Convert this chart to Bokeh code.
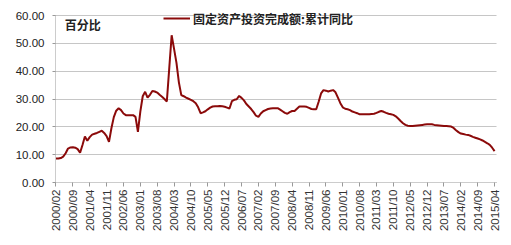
from math import pi
from bokeh.plotting import figure
from bokeh.models import Range1d, FixedTicker, Legend, LegendItem, Label, NumeralTickFormatter
from bokeh.embed import file_html
from bokeh.resources import INLINE

# monthly categories 2000/02 .. 2015/04
months = []
y, m = 2000, 2
while (y, m) <= (2015, 4):
    months.append(f"{y}/{m:02d}")
    m += 1
    if m > 12:
        y, m = y + 1, 1

values = [
    8.6, 8.6, 8.8, 9.3, 10.5, 12.2, 12.6, 12.7, 12.5, 12.0,
    10.7, 13.5, 16.5, 15.0, 16.3, 17.2, 17.5, 17.8, 18.2, 18.6,
    17.8, 16.7, 14.6, 19.5, 23.5, 25.8, 26.7, 26.0, 24.8, 24.2,
    24.2, 24.2, 24.2, 23.6, 18.2, 25.5, 31.0, 32.6, 30.5, 31.5,
    32.9, 32.7, 32.3, 31.5, 30.8, 30.0, 29.1, 41.0, 52.9, 48.0,
    43.0, 36.0, 31.4, 31.0, 30.5, 30.1, 29.7, 29.2, 28.5, 27.0,
    24.9, 25.2, 25.6, 26.3, 26.9, 27.3, 27.4, 27.4, 27.5, 27.4,
    27.2, 26.9, 26.6, 29.2, 29.7, 29.9, 31.1, 30.4, 29.5, 28.2,
    27.3, 26.4, 25.3, 24.0, 23.6, 24.8, 25.6, 26.0, 26.4, 26.6,
    26.7, 26.7, 26.7, 26.2, 25.6, 25.0, 24.7, 25.3, 25.7, 25.7,
    26.5, 27.3, 27.3, 27.3, 27.2, 26.8, 26.4, 26.3, 26.3, 29.0,
    32.0, 33.2, 33.0, 32.7, 33.0, 33.2, 32.4, 30.5, 28.5, 27.0,
    26.5, 26.3, 26.0, 25.5, 25.2, 24.9, 24.5, 24.5, 24.5, 24.5,
    24.5, 24.6, 24.7, 25.0, 25.4, 25.7, 25.4, 25.0, 24.7, 24.5,
    24.3, 23.8, 23.0, 22.1, 21.3, 20.7, 20.4, 20.3, 20.3, 20.4,
    20.5, 20.6, 20.7, 20.8, 20.9, 20.9, 20.9, 20.7, 20.6, 20.5,
    20.4, 20.3, 20.3, 20.2, 20.1, 19.6, 18.8, 18.1, 17.6, 17.4,
    17.2, 17.1, 16.8, 16.4, 16.1, 15.8, 15.5, 15.1, 14.6, 14.1,
    13.5, 12.5, 11.3,
]

tick_step = 7
y_ticks = [0, 10, 20, 30, 40, 50, 60]
series_name = "固定资产投资完成额:累计同比"
unit_text = "百分比"

xs = list(range(len(months)))
tick_idx = list(range(0, len(months), tick_step))

p = figure(width=511, height=245, output_backend="svg", toolbar_location=None,
           x_range=Range1d(-0.2, len(months) - 0.2), y_range=Range1d(0, 63.24),
           min_border_left=55, min_border_right=15, min_border_top=6, min_border_bottom=63)
p.outline_line_color = None
p.background_fill_color = "white"
p.border_fill_color = "white"

r = p.line(xs, values, line_color="#8b0a0a", line_width=2)

# axes
p.xaxis.ticker = FixedTicker(ticks=tick_idx)
p.xaxis.major_label_overrides = {i: months[i] for i in tick_idx}
p.xaxis.major_label_orientation = pi / 2
p.xaxis.minor_tick_line_color = None
p.xaxis.major_tick_out = 4
p.xaxis.major_tick_in = 0
p.xaxis.axis_line_color = "#999999"
p.xaxis.axis_line_dash = "1 1"
p.xaxis.major_tick_line_color = "#999999"
p.xaxis.major_label_text_font = "Liberation Sans"
p.xaxis.major_label_text_font_size = "11.5px"
p.xaxis.major_label_text_color = "#333333"
p.xaxis.major_label_standoff = 3

p.yaxis.ticker = FixedTicker(ticks=y_ticks)
p.yaxis.bounds = (0, 60)
p.yaxis.formatter = NumeralTickFormatter(format="0.00")
p.yaxis.minor_tick_line_color = None
p.yaxis.major_tick_out = 3
p.yaxis.major_tick_in = 0
p.yaxis.axis_line_color = "#999999"
p.yaxis.axis_line_dash = "1 1"
p.yaxis.major_tick_line_color = "#999999"
p.yaxis.major_label_text_font = "Liberation Sans"
p.yaxis.major_label_text_font_size = "11.5px"
p.yaxis.major_label_text_color = "#222222"
p.yaxis.major_label_standoff = 8

p.xgrid.grid_line_color = None
p.ygrid.grid_line_color = "#8c8c8c"
p.ygrid.grid_line_dash = "1 1"

legend = Legend(items=[LegendItem(label=series_name, renderers=[r])],
                location=(108, 154), padding=0, margin=0, spacing=0,
                glyph_width=27, label_standoff=3,
                border_line_color=None, background_fill_alpha=0,
                label_text_font="Noto Sans CJK SC", label_text_font_style="bold",
                label_text_font_size="12px", label_text_color="#222222")
p.add_layout(legend, "center")

p.add_layout(Label(x=3.6, y=56.6, text=unit_text, text_baseline="middle",
                   text_font="Noto Sans CJK SC", text_font_style="bold",
                   text_font_size="12px", text_color="#222222"))

open("out.html", "w").write(file_html(p, INLINE))
